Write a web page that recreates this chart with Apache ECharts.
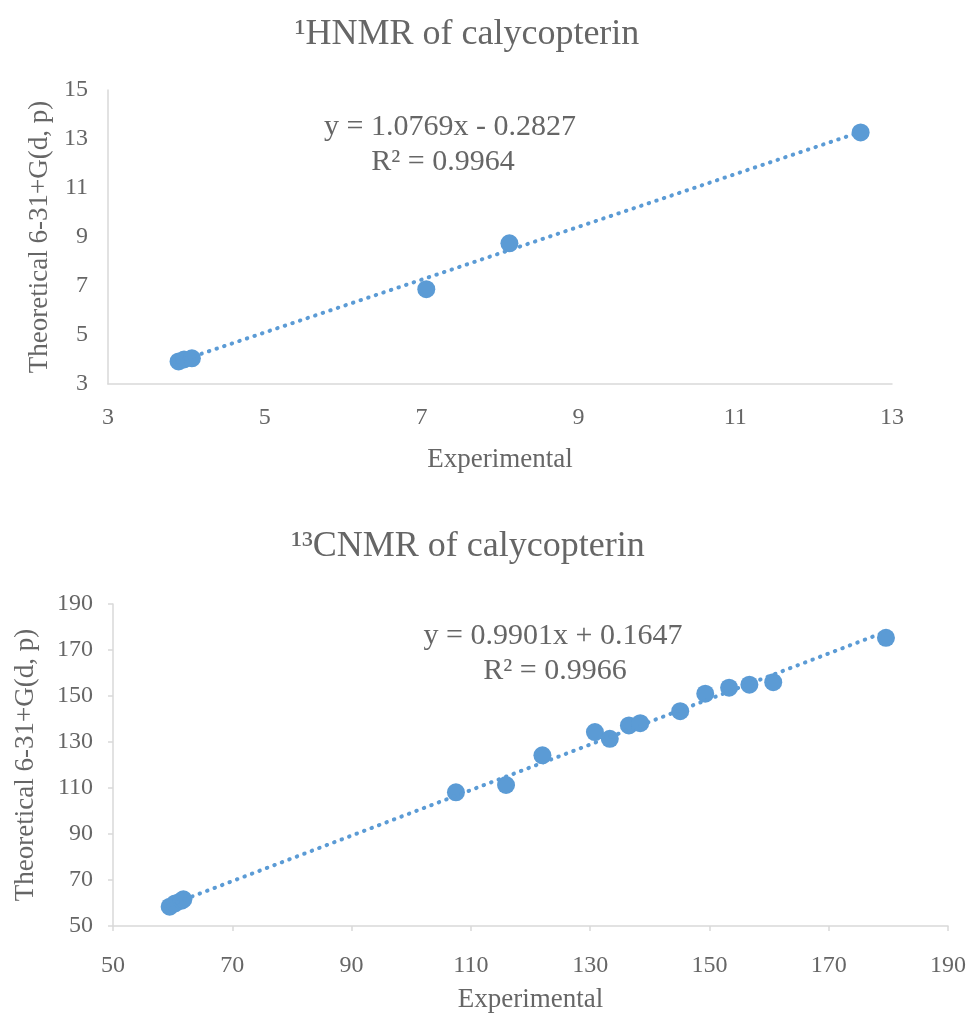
<!DOCTYPE html>
<html>
<head>
<meta charset="utf-8">
<script src="https://cdn.jsdelivr.net/npm/echarts@6/dist/echarts.min.js"></script>
<style>
html,body{margin:0;padding:0;background:#fff;}
#chart{width:971px;height:1018px;}
</style>
</head>
<body>
<div id="chart"></div>
<script>
// ---- Data: 1H NMR ----
const hExpX = [3.9, 3.97, 4.07, 7.06, 8.12, 12.6];
const hTheoY = [3.92, 4.0, 4.05, 6.87, 8.74, 13.27];
const hTrendX = [3.9, 12.6];
const hTrendY = [3.92, 13.29];
const hEquation = ['y = 1.0769x - 0.2827', 'R² = 0.9964'];
const hTitle = '¹HNMR of calycopterin';

// ---- Data: 13C NMR ----
const cExpX = [59.5, 60.4, 61.5, 61.8, 107.5, 115.9, 122.0, 130.8, 133.3, 136.5, 138.4, 145.1, 149.3, 153.3, 156.7, 160.7, 179.6];
const cTheoY = [58.4, 59.8, 61.0, 61.6, 108.1, 111.3, 124.2, 134.3, 131.4, 137.2, 138.2, 143.4, 151.0, 153.6, 154.9, 156.0, 175.3];
const cTrendX = [59.5, 179.6];
const cTrendY = [59.1, 178.0];
const cEquation = ['y = 0.9901x + 0.1647', 'R² = 0.9966'];
const cTitle = '¹³CNMR of calycopterin';

const xName = 'Experimental';
const yName = 'Theoretical 6-31+G(d, p)';

const FONT = '"Liberation Serif", "Times New Roman", serif';
const TXT = '#666666';
const BLUE = '#5b9bd5';
const AX = '#d9d9d9';

const pair = (xs, ys) => xs.map((x, i) => [x, ys[i]]);

function axisCommon(min, max, interval, ticks, name, gap, margin) {
  return {
    type: 'value', min: min, max: max, interval: interval,
    name: name, nameLocation: 'middle', nameGap: gap,
    nameTextStyle: {fontFamily: FONT, fontSize: 27, color: TXT},
    axisLine: {show: true, lineStyle: {color: AX, width: 1.5}},
    axisTick: {show: ticks, length: 5, lineStyle: {color: AX, width: 1.5}},
    splitLine: {show: false},
    axisLabel: {fontFamily: FONT, fontSize: 24, color: TXT, margin: margin}
  };
}

const chart = echarts.init(document.getElementById('chart'), null, {renderer: 'canvas'});
chart.setOption({
  animation: false,
  backgroundColor: '#fff',
  title: [
    {text: hTitle, left: 462, top: 12, textAlign: 'center',
     textStyle: {fontFamily: FONT, fontSize: 36, fontWeight: 'normal', color: TXT}},
    {text: cTitle, left: 463, top: 524, textAlign: 'center',
     textStyle: {fontFamily: FONT, fontSize: 36, fontWeight: 'normal', color: TXT}}
  ],
  grid: [
    {left: 108, top: 90, width: 784, height: 294, containLabel: false, outerBoundsMode: 'none'},
    {left: 113, top: 604, width: 835, height: 322, containLabel: false, outerBoundsMode: 'none'}
  ],
  xAxis: [
    Object.assign(axisCommon(3, 13, 2, false, xName, 62, 22), {gridIndex: 0}),
    Object.assign(axisCommon(50, 190, 20, true, xName, 60, 28), {gridIndex: 1})
  ],
  yAxis: [
    Object.assign(axisCommon(3, 15, 2, false, yName, 54, 20), {gridIndex: 0}),
    Object.assign(axisCommon(50, 190, 20, true, yName, 74, 20), {gridIndex: 1})
  ],
  series: [
    {type: 'scatter', xAxisIndex: 0, yAxisIndex: 0, data: pair(hExpX, hTheoY),
     symbolSize: 18, itemStyle: {color: BLUE, opacity: 1}, z: 2},
    {type: 'line', xAxisIndex: 0, yAxisIndex: 0, data: pair(hTrendX, hTrendY),
     showSymbol: false, symbol: 'none', silent: true,
     lineStyle: {color: BLUE, width: 4, type: [0.5, 7.5], cap: 'round'}, z: 3},
    {type: 'scatter', xAxisIndex: 1, yAxisIndex: 1, data: pair(cExpX, cTheoY),
     symbolSize: 18, itemStyle: {color: BLUE, opacity: 1}, z: 2},
    {type: 'line', xAxisIndex: 1, yAxisIndex: 1, data: pair(cTrendX, cTrendY),
     showSymbol: false, symbol: 'none', silent: true,
     lineStyle: {color: BLUE, width: 4, type: [0.5, 7.5], cap: 'round'}, z: 3}
  ],
  graphic: [
    {type: 'text', x: 450, y: 127, z: 10,
     style: {text: hEquation[0], align: 'center', verticalAlign: 'middle',
             font: '30px ' + FONT, fill: TXT}},
    {type: 'text', x: 443, y: 162, z: 10,
     style: {text: hEquation[1], align: 'center', verticalAlign: 'middle',
             font: '30px ' + FONT, fill: TXT}},
    {type: 'text', x: 553, y: 636, z: 10,
     style: {text: cEquation[0], align: 'center', verticalAlign: 'middle',
             font: '30px ' + FONT, fill: TXT}},
    {type: 'text', x: 555, y: 671, z: 10,
     style: {text: cEquation[1], align: 'center', verticalAlign: 'middle',
             font: '30px ' + FONT, fill: TXT}}
  ]
});
</script>
</body>
</html>
